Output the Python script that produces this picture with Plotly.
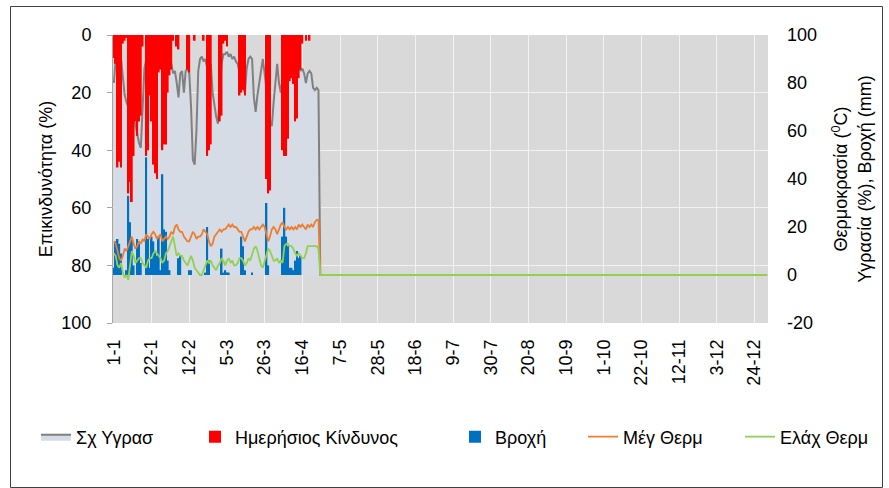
import plotly.graph_objects as go
import pandas as pd

YEAR = 2019
N_DAYS = 365
dates = pd.date_range(f"{YEAR}-01-01", periods=N_DAYS, freq="D")

tick_labels = ["1-1", "22-1", "12-2", "5-3", "26-3", "16-4", "7-5", "28-5", "18-6",
               "9-7", "30-7", "20-8", "10-9", "1-10", "22-10", "12-11", "3-12", "24-12"]
risk_ticks = [0, 20, 40, 60, 80, 100]
right_ticks = [-20, 0, 20, 40, 60, 80, 100]
right_tick_text = ["-20", "0", "20", "40", "60", "80", "100"]

# Σχετική υγρασία (%), 1-1 ... 25-4 (then 0 for rest of year)
humidity_obs = [80, 90, 95, 94, 90, 82, 75, 72, 70, 74,
                68, 66, 62, 58, 55, 53, 72, 86, 90, 92,
                90, 88, 91, 93, 90, 88, 86, 89, 91, 90,
                88, 87, 88, 84, 85, 80, 74, 84, 85, 76,
                85, 86, 84, 70, 48, 46, 60, 85, 90, 91,
                89, 90, 86, 80, 88, 76, 70, 66, 63, 75,
                88, 92, 92, 93, 91, 92, 90, 91, 89, 88,
                84, 80, 78, 76, 86, 90, 91, 90, 74, 68,
                75, 80, 86, 90, 84, 76, 70, 64, 62, 72,
                82, 88, 80, 76, 82, 88, 90, 86, 84, 88,
                90, 88, 86, 88, 85, 86, 84, 80, 84, 85,
                84, 78, 77, 78, 77]

# Ημερήσιος κίνδυνος (%)
risk_obs = [8, 10, 46, 44, 46, 3, 2, 1, 55, 51,
            58, 42, 30, 35, 30, 28, 4, 0, 42, 40,
            21, 30, 45, 48, 50, 13, 12, 40, 38, 38,
            20, 14, 12, 2, 0, 4, 5, 0, 0, 0,
            0, 12, 13, 0, 0, 2, 0, 0, 0, 0,
            2, 0, 42, 40, 38, 0, 0, 0, 0, 30,
            28, 3, 2, 4, 0, 0, 0, 0, 0, 0,
            21, 20, 19, 21, 0, 0, 0, 0, 0, 0,
            0, 0, 0, 0, 0, 50, 55, 54, 0, 0,
            0, 0, 0, 0, 40, 42, 42, 36, 16, 15,
            17, 30, 29, 15, 12, 3, 0, 2, 0, 2,
            0, 0, 0, 0, 0]

# Βροχή (mm)
rain_obs = [3, 14, 15, 13, 9, 0, 0, 2, 33, 22,
            15, 4, 0, 15, 13, 5, 0, 0, 49, 15,
            3, 16, 14, 10, 8, 16, 2, 42, 19, 18,
            6, 2, 0, 0, 0, 0, 7, 8, 0, 0,
            0, 0, 2, 2, 0, 0, 0, 0, 0, 0,
            0, 1, 20, 6, 0, 0, 0, 0, 0, 0,
            11, 1, 2, 1, 1, 0, 0, 0, 0, 0,
            0, 16, 12, 2, 0, 0, 0, 1, 0, 0,
            0, 0, 0, 0, 0, 30, 4, 0, 0, 0,
            0, 0, 0, 0, 16, 28, 16, 12, 3, 3,
            2, 6, 10, 7, 8, 0, 0, 0, 0, 0,
            0, 0, 0, 0, 0]

# Μέγιστη θερμοκρασία (°C)
tmax_obs = [14, 13, 10, 7, 6, 8, 11, 10, 12, 14,
            16, 13, 11, 12, 14, 13, 15, 14, 17, 16,
            15, 17, 18, 17, 15, 16, 17, 14, 15, 16,
            15, 16, 18, 17, 20, 21, 19, 18, 18, 16,
            15, 14, 14, 16, 18, 17, 15, 16, 16, 17,
            19, 18, 17, 14, 12, 13, 16, 17, 18, 19,
            18, 19, 19, 20, 21, 20, 21, 20, 20, 19,
            18, 18, 16, 14, 16, 18, 19, 19, 20, 19,
            20, 19, 20, 21, 20, 17, 14, 16, 19, 20,
            19, 17, 19, 21, 22, 20, 19, 20, 19, 20,
            19, 20, 19, 21, 20, 21, 20, 19, 21, 20,
            21, 20, 22, 23, 23]

# Ελάχιστη θερμοκρασία (°C)
tmin_obs = [9, 8, 4, 3, 5, 1, -1, 0, -2, 4,
            10, 8, 5, 6, 7, 7, 5, 4, 3, 6,
            7, 7, 9, 10, 9, 8, 7, 5, 6, 9,
            10, 12, 14, 16, 12, 8, 9, 8, 8, 6,
            5, 4, 6, 8, 6, 3, 2, 1, 0, 0,
            2, 4, 6, 5, 6, 4, 3, 2, 4, 5,
            7, 6, 4, 6, 7, 5, 6, 4, 4, 5,
            7, 7, 6, 4, 5, 7, 6, 9, 11, 12,
            10, 7, 4, 3, 6, 9, 11, 10, 8, 6,
            6, 7, 5, 6, 5, 12, 13, 13, 12, 12,
            11, 9, 8, 9, 8, 7, 7, 9, 12, 12,
            12, 12, 12, 12, 11]

n_tail = N_DAYS - len(humidity_obs)
humidity = humidity_obs + [0] * n_tail
risk = risk_obs + [0] * n_tail
rain = rain_obs + [0] * n_tail
tmax = tmax_obs + [0] * n_tail
tmin = tmin_obs + [0] * n_tail

tick_vals = [pd.Timestamp(YEAR, int(m), int(d)) for d, m in (t.split("-") for t in tick_labels)]

FONT = "Liberation Sans, Arial, sans-serif"
DAY_MS = 86400000

fig = go.Figure()
fig.add_trace(go.Scatter(x=dates, y=humidity, name="Σχ Υγρασ", mode="lines",
                         fill="tozeroy", fillcolor="#d6dce5",
                         line=dict(color="#808080", width=2), yaxis="y",
                         legend="legend"))
fig.add_trace(go.Bar(x=dates, y=risk, name="Ημερήσιος Κίνδυνος",
                     marker=dict(color="#ff0000", line=dict(width=0)),
                     width=DAY_MS, yaxis="y2", legend="legend2"))
fig.add_trace(go.Bar(x=dates, y=rain, name="Βροχή",
                     marker=dict(color="#0070c0", line=dict(width=0)),
                     width=DAY_MS, yaxis="y3", legend="legend3"))
fig.add_trace(go.Scatter(x=dates, y=tmax, name="Μέγ Θερμ", mode="lines",
                         line=dict(color="#ed7d31", width=1.8), yaxis="y3",
                         legend="legend4"))
fig.add_trace(go.Scatter(x=dates, y=tmin, name="Ελάχ Θερμ", mode="lines",
                         line=dict(color="#92d050", width=1.8), yaxis="y3",
                         legend="legend5"))

L, R, T, B = 113, 121, 35, 165
W, H = 889, 488
pw, ph = W - L - R, H - T - B


def px(xp):
    return (xp - L) / pw


def py(yp):
    return (H - B - yp) / ph


def legend_at(x_left):
    return dict(orientation="h", x=px(x_left), xanchor="left", y=py(437), yanchor="middle",
                font=dict(size=18, family=FONT, color="#000000"),
                bgcolor="rgba(0,0,0,0)", itemwidth=30)


fig.update_layout(
    width=W, height=H,
    margin=dict(l=L, r=R, t=T, b=B),
    paper_bgcolor="white",
    plot_bgcolor="#d9d9d9",
    font=dict(family=FONT, size=18, color="#000000"),
    barmode="overlay",
    showlegend=True,
    legend=legend_at(36),
    legend2=legend_at(195),
    legend3=legend_at(455),
    legend4=legend_at(583),
    legend5=legend_at(740),
    xaxis=dict(
        range=[dates[0] - pd.Timedelta(hours=12), dates[-1] + pd.Timedelta(hours=12)],
        tickmode="array", tickvals=tick_vals, ticktext=tick_labels,
        tickangle=-90, showgrid=True, gridcolor="#f2f2f2", gridwidth=1,
        zeroline=False, showline=False, ticks="", ticklabelstandoff=12,
        tickfont=dict(size=18),
    ),
    yaxis=dict(range=[-20, 100], visible=False, showgrid=False, zeroline=False),
    yaxis2=dict(
        overlaying="y", side="left", range=[100, 0],
        tickmode="array", tickvals=risk_ticks,
        showgrid=True, gridcolor="#f2f2f2", gridwidth=1, zeroline=False,
        showline=True, linecolor="#a6a6a6", linewidth=1,
        ticks="outside", ticklen=5, tickcolor="#a6a6a6",
        ticklabelstandoff=12,
        title=dict(text="Επικινδυνότητα (%)", font=dict(size=18), standoff=4),
    ),
    yaxis3=dict(
        overlaying="y", side="right", range=[-20, 100],
        tickmode="array", tickvals=right_ticks, ticktext=right_tick_text,
        showgrid=False, zeroline=False, showline=False, ticks="",
        ticklabelstandoff=18,
        title=dict(text="Θερμοκρασία (<sup>0</sup>C)<br>Υγρασία (%), Βροχή (mm)",
                   font=dict(size=18), standoff=18),
    ),
    shapes=[dict(type="rect", xref="paper", yref="paper",
                 x0=px(10.5), x1=px(882.5), y0=py(487.5), y1=py(6.5),
                 line=dict(color="#404040", width=1), fillcolor="rgba(0,0,0,0)",
                 layer="above")],
)

fig.write_html("out.html", config={"displayModeBar": False},
               post_script="document.body.style.margin='0px';")
